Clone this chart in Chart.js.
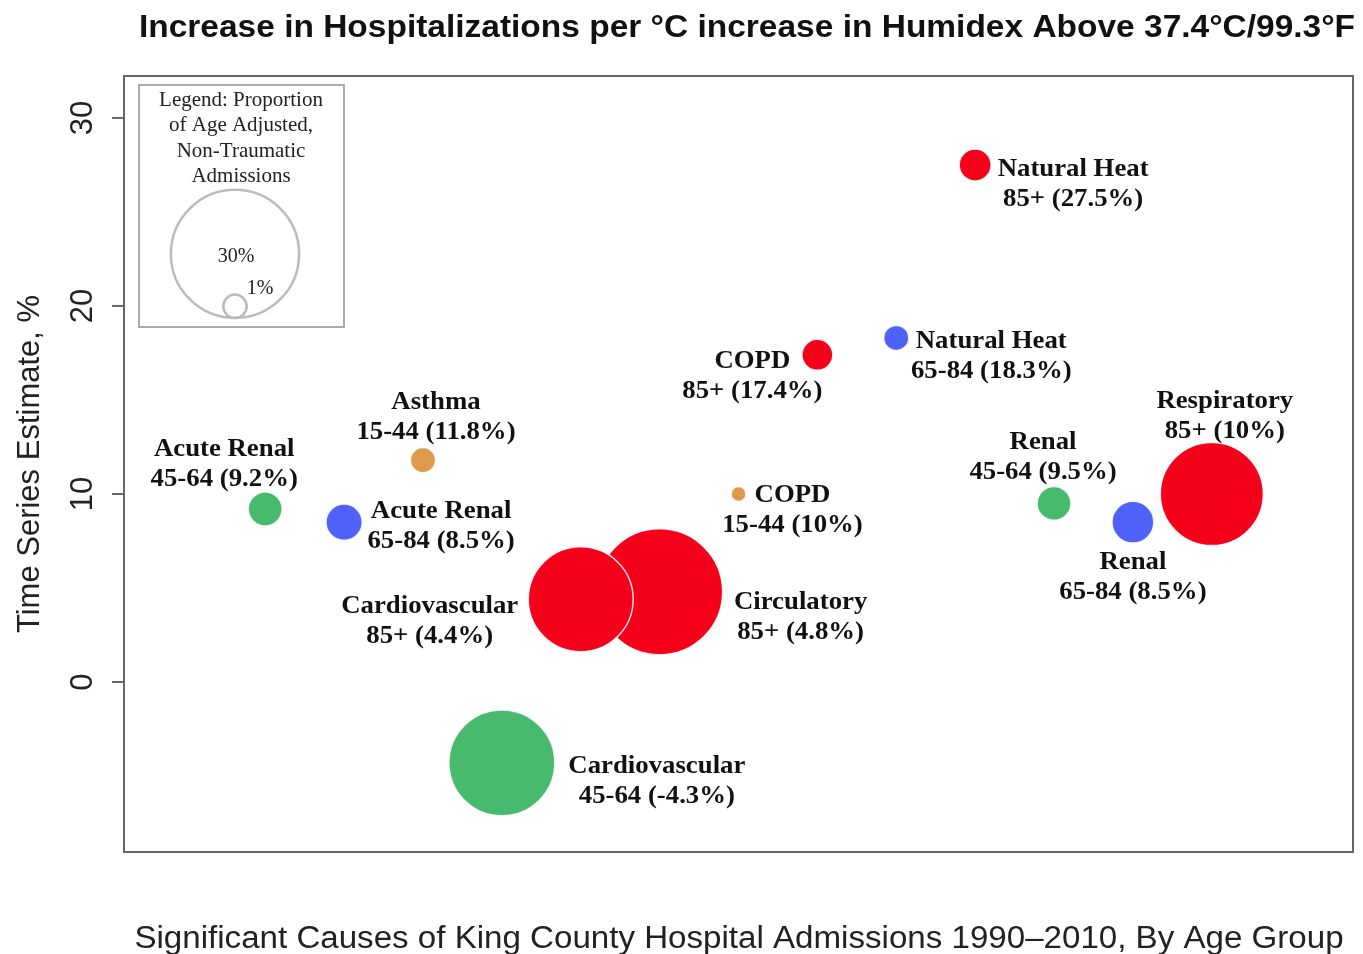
<!DOCTYPE html>
<html>
<head>
<meta charset="utf-8">
<script src="https://cdn.jsdelivr.net/npm/chart.js@4.4.0/dist/chart.umd.min.js"></script>
<style>
  html, body { margin: 0; padding: 0; background: #fff; }
  #wrap { width: 1363px; height: 954px; }
</style>
</head>
<body>
<div id="wrap"><canvas id="chart" width="1363" height="954"></canvas></div>
<script>
// one entry per cause / age group, in plotting order along x
const causes = ['Acute Renal', 'Acute Renal', 'Asthma', 'Cardiovascular', 'Cardiovascular', 'Circulatory',
  'COPD', 'COPD', 'Natural Heat', 'Natural Heat', 'Renal', 'Renal', 'Respiratory']
const ageGroups = ['45-64', '65-84', '15-44', '45-64', '85+', '85+', '15-44', '85+', '65-84', '85+', '45-64', '65-84', '85+']
// % increase in hospitalizations per degree C
const estimates = [9.2, 8.5, 11.8, -4.3, 4.4, 4.8, 10, 17.4, 18.3, 27.5, 9.5, 8.5, 10]
// proportion of age adjusted non-traumatic admissions (%)
const proportions = [2.1, 2.4, 1.15, 20.5, 20.1, 29, 0.41, 1.75, 1.15, 1.87, 2.1, 3.2, 19.4]
const yTicks = [0, 10, 20, 30]
const legendSizes = [30, 1]

const ageColors = { '15-44': '#DE9A4C', '45-64': '#48BA6E', '65-84': '#4F62F7', '85+': '#F5001A' }

// label placement relative to the bubble centre (px), line 1 centre
const labelOffsets = [[-41, -60], [97, -11], [13, -58], [155, 3], [-151, 7], [141, 11],
  [54, 1], [-65, 6], [95, 3], [98, 4], [-11, -61], [0, 40], [13, -93]]

const sizeToRadius = (p) => 11.7 * Math.sqrt(p)

// draw the biggest bubbles first so small ones stay on top
const order = causes.map((c, i) => i).sort((a, b) => proportions[b] - proportions[a])
const points = order.map(i => ({ x: i + 1, y: estimates[i], r: sizeToRadius(proportions[i]), i }))

const sans = "'Liberation Sans', Arial, sans-serif"
const serif = "'Liberation Serif', 'Times New Roman', serif"

// text a bit wider than the font gives, as in the original plot
const wideText = (ctx, text, x, y, sx) => {
  ctx.save()
  ctx.translate(x, y)
  ctx.scale(sx, 1)
  ctx.fillText(text, 0, 0)
  ctx.restore()
}

const decorations = {
  id: 'decorations',
  beforeDraw (chart) {
    const ctx = chart.ctx
    ctx.save()
    ctx.fillStyle = '#fff'
    ctx.fillRect(0, 0, chart.width, chart.height)
    ctx.restore()
  },
  afterDatasetsDraw (chart) {
    const ctx = chart.ctx
    const area = chart.chartArea
    const meta = chart.getDatasetMeta(0)
    ctx.save()

    // bubble labels
    ctx.fillStyle = '#111'
    ctx.textAlign = 'center'
    ctx.textBaseline = 'middle'
    ctx.font = 'bold 26px ' + serif
    meta.data.forEach((el, k) => {
      const i = points[k].i
      const [dx, dy] = labelOffsets[i]
      wideText(ctx, causes[i], el.x + dx, el.y + dy, 1.03)
      wideText(ctx, ageGroups[i] + ' (' + estimates[i] + '%)', el.x + dx, el.y + dy + 30, 1.03)
    })

    // frame
    ctx.strokeStyle = '#666'
    ctx.lineWidth = 2
    ctx.strokeRect(area.left, area.top, area.right - area.left, area.bottom - area.top)

    // y ticks, rotated labels like base R
    const y = chart.scales.y
    ctx.font = '31px ' + sans
    ctx.fillStyle = '#222'
    yTicks.forEach(v => {
      const py = y.getPixelForValue(v)
      ctx.beginPath()
      ctx.moveTo(area.left - 12, py)
      ctx.lineTo(area.left, py)
      ctx.stroke()
      ctx.save()
      ctx.translate(area.left - 41, py)
      ctx.rotate(-Math.PI / 2)
      ctx.fillText(String(v), 0, 0)
      ctx.restore()
    })

    // axis titles and main title
    ctx.save()
    ctx.translate(30, (area.top + area.bottom) / 2)
    ctx.rotate(-Math.PI / 2)
    ctx.fillText('Time Series Estimate, %', 0, 0)
    ctx.restore()

    ctx.fillStyle = '#111'
    ctx.font = 'bold 31px ' + sans
    wideText(ctx, 'Increase in Hospitalizations per \u00b0C increase in Humidex Above 37.4\u00b0C/99.3\u00b0F', 747, 28, 1.08)
    ctx.fillStyle = '#222'
    ctx.font = '31px ' + sans
    wideText(ctx, 'Significant Causes of King County Hospital Admissions 1990\u20132010, By Age Group', 739, 939, 1.068)

    // size legend
    ctx.strokeStyle = '#aaa'
    ctx.lineWidth = 2
    ctx.strokeRect(139, 85, 205, 242)
    ctx.fillStyle = '#222'
    ctx.font = '21px ' + serif
    const legendLines = ['Legend: Proportion', 'of Age Adjusted,', 'Non-Traumatic', 'Admissions']
    legendLines.forEach((t, k) => ctx.fillText(t, 241, 100 + k * 25.5))
    ctx.strokeStyle = '#bbb'
    ctx.lineWidth = 2.5
    legendSizes.forEach(s => {
      const r = sizeToRadius(s)
      ctx.beginPath()
      ctx.arc(235, 318 - r, r, 0, Math.PI * 2)
      ctx.stroke()
    })
    ctx.font = '20px ' + serif
    ctx.fillText(legendSizes[0] + '%', 236, 257)
    ctx.fillText(legendSizes[1] + '%', 260, 289)

    ctx.restore()
  }
}

new Chart(document.getElementById('chart'), {
  type: 'bubble',
  data: {
    datasets: [{
      data: points,
      backgroundColor: (c) => c.raw ? ageColors[ageGroups[c.raw.i]] : '#000',
      borderColor: 'rgba(255,255,255,0.85)',
      borderWidth: 1.5
    }]
  },
  options: {
    responsive: false,
    animation: false,
    layout: { autoPadding: false, padding: { left: 124, right: 10, top: 76, bottom: 102 } },
    plugins: {
      legend: { display: false },
      tooltip: { enabled: false }
    },
    scales: {
      x: { type: 'linear', min: -0.79, max: 14.79, display: false },
      y: { type: 'linear', min: -9.04, max: 32.23, display: false }
    }
  },
  plugins: [decorations]
})
</script>
</body>
</html>
